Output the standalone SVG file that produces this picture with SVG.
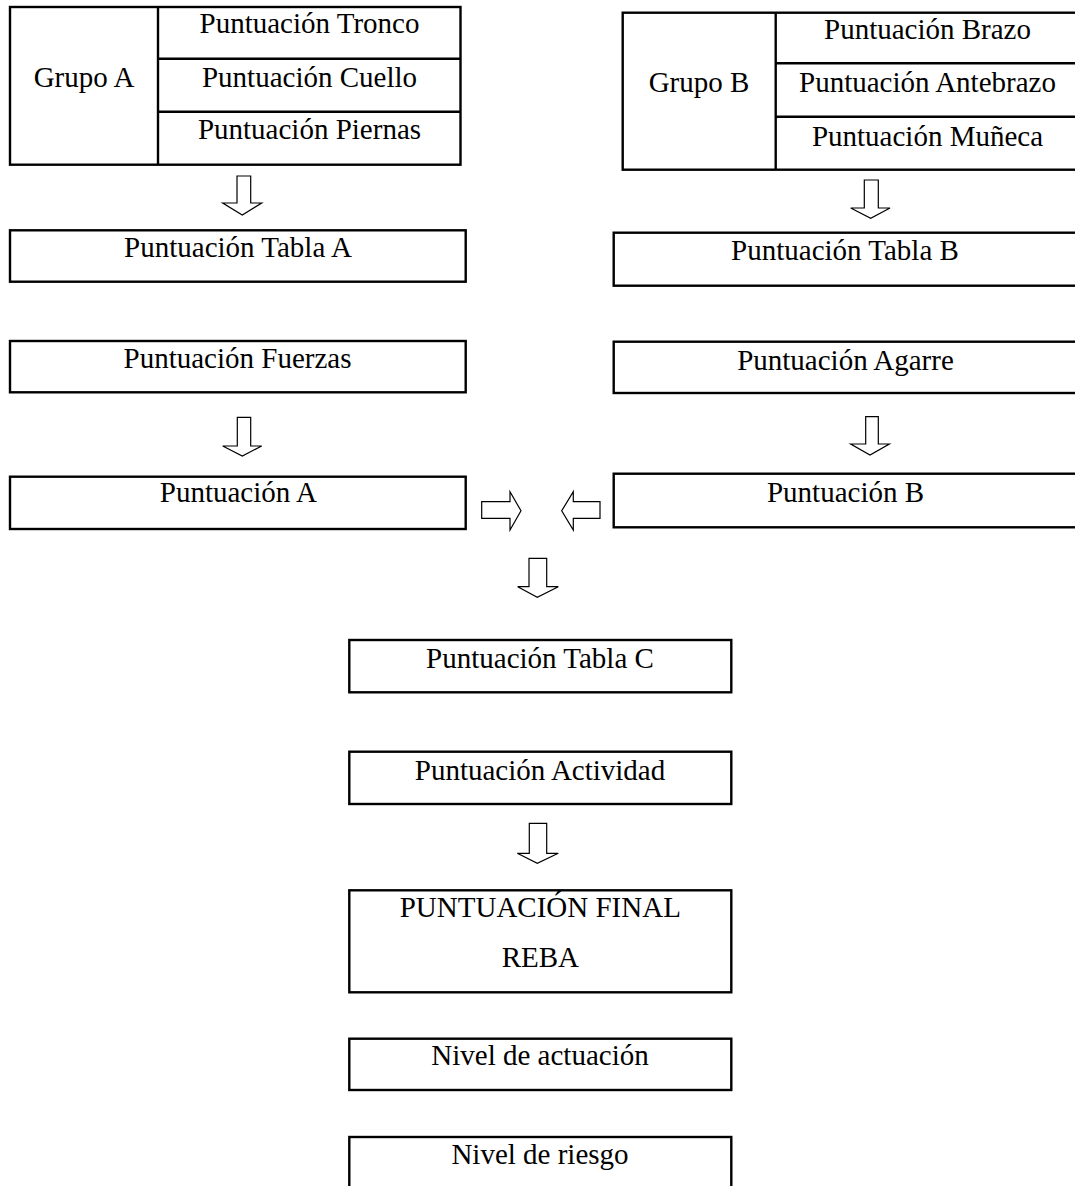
<svg xmlns="http://www.w3.org/2000/svg" width="1075" height="1186" viewBox="0 0 1075 1186">
<style>
.box{fill:#fff;stroke:#000;stroke-width:2.4}
.ln{stroke:#000;stroke-width:2.4;fill:none}
.arr{fill:#fff;stroke:#000;stroke-width:1.2;stroke-linejoin:miter}
text{font-family:'Liberation Serif','Times New Roman',serif;font-size:29px;fill:#000;text-anchor:middle}
</style>
<rect width="1075" height="1186" fill="#fff"/>
<g font-family="Liberation Serif, Times New Roman, serif">
<g id="grupoA">
<rect class="box" x="10" y="7" width="450.5" height="157.7"/>
<line class="ln" x1="158" y1="7" x2="158" y2="164.7"/>
<line class="ln" x1="158" y1="58.7" x2="460.5" y2="58.7"/>
<line class="ln" x1="158" y1="111.7" x2="460.5" y2="111.7"/>
<text x="84" y="87.3">Grupo A</text>
<text x="309.5" y="33.3">Puntuación Tronco</text>
<text x="309.5" y="87.3">Puntuación Cuello</text>
<text x="309.5" y="139.3">Puntuación Piernas</text>
</g>
<g id="grupoB">
<rect class="box" x="622.7" y="12.7" width="460" height="157"/>
<line class="ln" x1="775.7" y1="12.7" x2="775.7" y2="169.7"/>
<line class="ln" x1="775.7" y1="63.3" x2="1082" y2="63.3"/>
<line class="ln" x1="775.7" y1="116.7" x2="1082" y2="116.7"/>
<text x="699" y="92.3">Grupo B</text>
<text x="927.5" y="39">Puntuación Brazo</text>
<text x="927.5" y="92.3">Puntuación Antebrazo</text>
<text x="927.5" y="145.7">Puntuación Muñeca</text>
</g>
<g id="tablaA"><rect class="box" x="10" y="230.3" width="455.7" height="51.4"/><text x="238" y="256.7">Puntuación Tabla A</text></g>
<g id="tablaB"><rect class="box" x="613.7" y="232.7" width="470" height="53"/><text x="845" y="260">Puntuación Tabla B</text></g>
<g id="fuerzas"><rect class="box" x="10" y="341" width="455.7" height="51.3"/><text x="237.5" y="368.3">Puntuación Fuerzas</text></g>
<g id="agarre"><rect class="box" x="613.7" y="341.7" width="470" height="51.3"/><text x="845.5" y="370">Puntuación Agarre</text></g>
<g id="puntA"><rect class="box" x="10" y="476.7" width="455.7" height="52.3"/><text x="238.3" y="502">Puntuación A</text></g>
<g id="puntB"><rect class="box" x="613.7" y="473.7" width="470" height="53.6"/><text x="845.5" y="501.5">Puntuación B</text></g>
<g id="tablaC"><rect class="box" x="349.3" y="640" width="382" height="52.3"/><text x="540" y="667.5">Puntuación Tabla C</text></g>
<g id="actividad"><rect class="box" x="349.3" y="751.7" width="382" height="52.3"/><text x="540" y="780">Puntuación Actividad</text></g>
<g id="final"><rect class="box" x="349.3" y="890.3" width="382" height="102"/><text x="540.3" y="916.7">PUNTUACIÓN FINAL</text><text x="540.3" y="967.3">REBA</text></g>
<g id="actuacion"><rect class="box" x="349.3" y="1038.7" width="382" height="51.3"/><text x="540" y="1064.5">Nivel de actuación</text></g>
<g id="riesgo"><rect class="box" x="349.3" y="1137" width="382" height="60"/><text x="540" y="1164">Nivel de riesgo</text></g>
</g>
<g id="connectors">
<path class="arr" d="M237,176 H250.7 V203 H261.7 L242.3,215 L222.7,203 H237 Z"/>
<path class="arr" d="M864.3,180 H878.3 V208 H890 L870.7,218.3 L850.7,208 H864.3 Z"/>
<path class="arr" d="M237.3,417.3 H250.7 V446 H261.7 L242.3,456 L222.7,446 H237.3 Z"/>
<path class="arr" d="M865.7,416.7 H878.3 V444 H889.3 L870,455 L850.7,444 H865.7 Z"/>
<path class="arr" d="M481.7,501.7 H510 V491.7 L521,510.8 L510,530 V518.3 H481.7 Z"/>
<path class="arr" d="M600,501.7 H573.3 V491.7 L561.7,510.8 L573.3,530 V518.3 H600 Z"/>
<path class="arr" d="M529,558.3 H546.7 V586.7 H558.3 L537.3,597.3 L517.7,586.7 H529 Z"/>
<path class="arr" d="M529.3,823.3 H546.7 V853.3 H558.3 L537.3,863.3 L517.3,853.3 H529.3 Z"/>
</g>
</svg>
